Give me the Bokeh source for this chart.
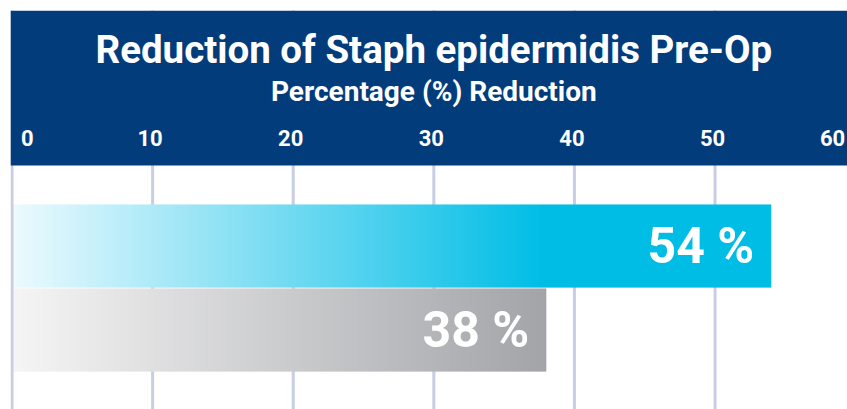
import numpy as np
from bokeh.plotting import figure
from bokeh.models import Range1d, BoxAnnotation, Span, Label, ColumnDataSource
from bokeh.core.properties import value
from bokeh.embed import file_html
from bokeh.resources import INLINE

# ---- data ----
categories = ["Product A", "Product B"]
reductions = [54, 38]
value_labels = ["54 %", "38 %"]
tick_values = [0, 10, 20, 30, 40, 50, 60]
tick_labels = ["0", "10", "20", "30", "40", "50", "60"]
title_text = "Reduction of Staph epidermidis Pre-Op"
subtitle_text = "Percentage (%) Reduction"

# ---- styles ----
FONT = "Roboto"
NAVY = "#023c7b"
GRID = "#c8cde3"
grad_start = [(236, 250, 254), (245, 245, 245)]
grad_end = [(0, 189, 230), (163, 164, 168)]
grad_ramp = [0.70, 1.0]   # fraction of bar length over which the gradient runs
BAR_H = 0.99

W, H = 837, 399
p = figure(width=W, height=H, output_backend="svg", toolbar_location=None,
           x_range=Range1d(-0.107, 59.42), y_range=Range1d(-0.946, 3.804),
           min_border=0, margin=(10, 0, 0, 10))
p.axis.visible = False
p.xgrid.visible = False
p.ygrid.visible = False
p.outline_line_color = None
p.background_fill_color = "white"
p.border_fill_color = "white"

# y positions: first category on top
ypos = [len(categories) - 1 - i for i in range(len(categories))]

def py(c):
    """canvas pixel row -> data y"""
    return 1 + (235.5 - c) / 84

# vertical grid lines
p.segment(x0=tick_values[1:], x1=tick_values[1:], y0=-5, y1=5,
          line_color=GRID, line_width=3, level="underlay")

# gradient bars
N = 800
for i, (v, y) in enumerate(zip(reductions, ypos)):
    t = np.clip(np.linspace(0, 1, N) / grad_ramp[i], 0, 1)
    s = np.array(grad_start[i], float)
    e = np.array(grad_end[i], float)
    rgb = s[None, :] + (e - s)[None, :] * t[:, None]
    img = np.zeros((1, N), dtype=np.uint32)
    view = img.view(dtype=np.uint8).reshape((1, N, 4))
    view[0, :, 0] = rgb[:, 0].round()
    view[0, :, 1] = rgb[:, 1].round()
    view[0, :, 2] = rgb[:, 2].round()
    view[0, :, 3] = 255
    p.image_rgba(image=[img], x=0, y=y - BAR_H / 2, dw=v, dh=BAR_H)

# zero line
p.add_layout(Span(location=0, dimension="height", line_color=GRID, line_width=3))

# value labels
src = ColumnDataSource(dict(x=reductions, y=ypos, t=value_labels))
p.text(x="x", y="y", text="t", source=src, x_offset=-17,
       text_align="right", text_baseline="middle",
       text_font=value(FONT), text_font_style="bold",
       text_font_size="50px", text_color="white")

# header band
p.add_layout(BoxAnnotation(bottom=py(155), top=None, fill_color=NAVY,
                           fill_alpha=1.0, line_color=None, level="annotation"))

# title texts (centered over 0..60)
mid = (tick_values[0] + tick_values[-1]) / 2
p.add_layout(Label(x=mid, y=py(39.2), text=title_text,
                   text_align="center", text_baseline="middle",
                   text_font=FONT, text_font_style="bold",
                   text_font_size="38.5px", text_color="white"))
p.add_layout(Label(x=mid, y=py(81.3), text=subtitle_text,
                   text_align="center", text_baseline="middle",
                   text_font=FONT, text_font_style="bold",
                   text_font_size="28px", text_color="white"))

# tick labels
lab_kw = dict(y=py(127.9), text_baseline="middle", text_font=value(FONT),
              text_font_style="bold", text_font_size="22px",
              text_color="white", level="overlay")
p.text(x=tick_values[:1], text=tick_labels[:1], text_align="left",
       x_offset=9, **lab_kw)
p.text(x=tick_values[1:-1], text=tick_labels[1:-1], text_align="center",
       x_offset=-2.5, **lab_kw)
p.text(x=tick_values[-1:], text=tick_labels[-1:], text_align="right",
       x_offset=-10.5, **lab_kw)

open("out.html", "w").write(file_html(p, INLINE))
